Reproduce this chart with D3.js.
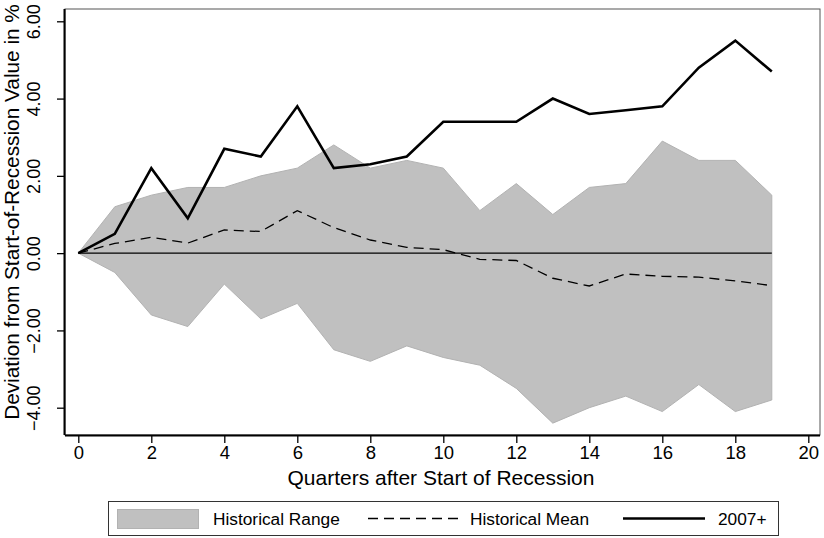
<!DOCTYPE html>
<html lang="en">
<head>
    <meta charset="UTF-8">
    <title>Deviation from Start-of-Recession</title>
    <script src="https://cdn.jsdelivr.net/npm/d3@7"></script>
    <style>
        body { margin: 0; background: #fff; }
        text { font-family: "Liberation Sans", Arial, sans-serif; fill: #000; }
    </style>
</head>
<body>
<script>
    // quarters after start of recession
    let quarters = d3.range(0, 20);
    // historical range (min / max) and mean, plus the 2007+ recession
    let rangeHigh = [0, 1.2, 1.5, 1.7, 1.7, 2.0, 2.2, 2.8, 2.2, 2.4, 2.2, 1.1, 1.8, 1.0, 1.7, 1.8, 2.9, 2.4, 2.4, 1.5];
    let rangeLow  = [0, -0.5, -1.6, -1.9, -0.8, -1.7, -1.3, -2.5, -2.8, -2.4, -2.7, -2.9, -3.5, -4.4, -4.0, -3.7, -4.1, -3.4, -4.1, -3.8];
    let histMean  = [0, 0.25, 0.41, 0.26, 0.6, 0.56, 1.1, 0.66, 0.34, 0.15, 0.09, -0.16, -0.19, -0.65, -0.85, -0.54, -0.6, -0.62, -0.72, -0.84];
    let rec2007   = [0, 0.5, 2.2, 0.9, 2.7, 2.5, 3.8, 2.2, 2.3, 2.5, 3.4, 3.4, 3.4, 4.0, 3.6, 3.7, 3.8, 4.8, 5.5, 4.7];
    let xTicks = [0, 2, 4, 6, 8, 10, 12, 14, 16, 18, 20];
    let yTicks = [-4, -2, 0, 2, 4, 6];
    let legendLabels = ["Historical Range", "Historical Mean", "2007+"];

    let width = 824, height = 538;
    let box = {left: 65, right: 820, top: 9, bottom: 435};

    let svg = d3.select('body').append('svg')
        .attr('width', width)
        .attr('height', height);

    let xScale = d3.scaleLinear().domain([0, 20]).range([78.3, 808.3]);
    let yScale = d3.scaleLinear().domain([-4, 6]).range([407.7, 21.3]);

    let rows = quarters.map(function (q, i) {
        return {q: q, lo: rangeLow[i], hi: rangeHigh[i], mean: histMean[i], rec: rec2007[i]};
    });

    // plot frame (thin grey on top/right)
    svg.append('rect')
        .attr('x', box.left).attr('y', box.top)
        .attr('width', box.right - box.left).attr('height', box.bottom - box.top)
        .attr('fill', 'none').attr('stroke', '#555').attr('stroke-width', 1);

    // historical range band
    let area = d3.area()
        .x(function (d) { return xScale(d.q); })
        .y0(function (d) { return yScale(d.lo); })
        .y1(function (d) { return yScale(d.hi); });
    svg.append('path').datum(rows)
        .attr('d', area)
        .attr('fill', '#c0c0c0')
        .attr('stroke', '#b2b2b2')
        .attr('stroke-width', 1);

    // zero line
    svg.append('line')
        .attr('x1', xScale(0)).attr('x2', xScale(19))
        .attr('y1', yScale(0)).attr('y2', yScale(0))
        .attr('stroke', '#000').attr('stroke-width', 1.2);

    // historical mean
    let meanLine = d3.line()
        .x(function (d) { return xScale(d.q); })
        .y(function (d) { return yScale(d.mean); });
    svg.append('path').datum(rows)
        .attr('d', meanLine)
        .attr('fill', 'none')
        .attr('stroke', '#000')
        .attr('stroke-width', 1.3)
        .attr('stroke-dasharray', '10,6');

    // 2007+
    let recLine = d3.line()
        .x(function (d) { return xScale(d.q); })
        .y(function (d) { return yScale(d.rec); });
    svg.append('path').datum(rows)
        .attr('d', recLine)
        .attr('fill', 'none')
        .attr('stroke', '#000')
        .attr('stroke-width', 2.6)
        .attr('stroke-linejoin', 'miter');

    // x axis
    let xAxis = svg.append('g')
        .attr('transform', 'translate(0,' + box.bottom + ')')
        .call(d3.axisBottom(xScale).tickValues(xTicks).tickSize(8).tickSizeOuter(0).tickPadding(3));
    xAxis.select('.domain').attr('d', 'M' + box.left + ',0.5H' + box.right).attr('stroke-width', 2);
    xAxis.selectAll('.tick line').attr('stroke-width', 1.3);
    xAxis.selectAll('text').style('font-size', '18.5px').style('font-family', '"Liberation Sans", Arial, sans-serif');

    // y axis, labels rotated
    let yAxis = svg.append('g')
        .attr('transform', 'translate(' + box.left + ',0)')
        .call(d3.axisLeft(yScale).tickValues(yTicks).tickSize(8).tickSizeOuter(0)
            .tickFormat(d3.format('.2f')));
    yAxis.select('.domain').attr('d', 'M-0.5,' + box.top + 'V' + box.bottom).attr('stroke-width', 2);
    yAxis.selectAll('.tick line').attr('stroke-width', 1.3);
    yAxis.selectAll('text')
        .attr('x', null).attr('dy', null)
        .attr('text-anchor', 'middle')
        .attr('transform', 'translate(-25,0) rotate(-90)')
        .style('font-size', '18px')
        .style('font-family', '"Liberation Sans", Arial, sans-serif');

    // axis titles
    svg.append('text')
        .attr('x', 441)
        .attr('y', 485)
        .attr('text-anchor', 'middle')
        .style('font-size', '21px')
        .text('Quarters after Start of Recession');
    svg.append('text')
        .attr('transform', 'translate(19,' + 212 + ') rotate(-90)')
        .attr('text-anchor', 'middle')
        .style('font-size', '20.8px')
        .text('Deviation from Start-of-Recession Value in %');

    // legend
    let lg = svg.append('g');
    lg.append('rect')
        .attr('x', 108.5).attr('y', 501.5).attr('width', 670).attr('height', 34)
        .attr('fill', '#fff').attr('stroke', '#333').attr('stroke-width', 1);
    lg.append('rect')
        .attr('x', 117.5).attr('y', 509.5).attr('width', 81).attr('height', 19)
        .attr('fill', '#c0c0c0').attr('stroke', '#b2b2b2').attr('stroke-width', 1);
    lg.append('line')
        .attr('x1', 368).attr('x2', 460).attr('y1', 518.5).attr('y2', 518.5)
        .attr('stroke', '#000').attr('stroke-width', 1.3).attr('stroke-dasharray', '10,6');
    lg.append('line')
        .attr('x1', 623).attr('x2', 705).attr('y1', 518.5).attr('y2', 518.5)
        .attr('stroke', '#000').attr('stroke-width', 2.6);
    let legendX = [213, 470, 718];
    lg.selectAll('text.lab').data(legendLabels).enter()
        .append('text').attr('class', 'lab')
        .attr('x', function (d, i) { return legendX[i]; })
        .attr('y', 524.5)
        .style('font-size', '17.3px')
        .text(function (d) { return d; });
</script>
</body>
</html>
